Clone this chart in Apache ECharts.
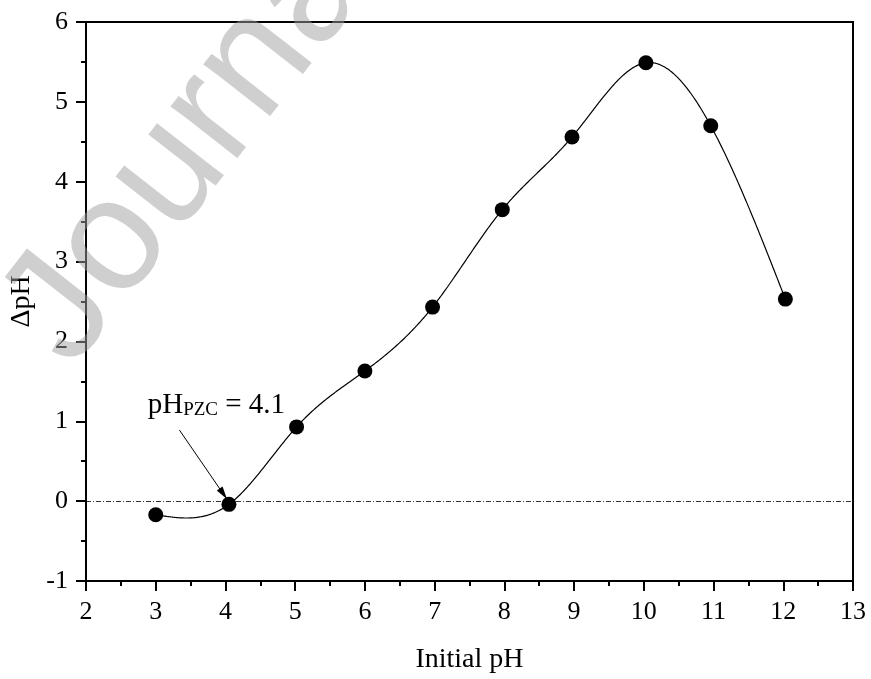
<!DOCTYPE html>
<html>
<head>
<meta charset="utf-8">
<title>ΔpH vs Initial pH</title>
<script src="https://cdn.jsdelivr.net/npm/echarts@6.0.0/dist/echarts.min.js"></script>
<style>
  html, body { margin: 0; padding: 0; background: #fff; }
  #chart { width: 871px; height: 679px; }
</style>
</head>
<body>
<div id="chart"></div>
<script>
// 数据
var initialPH = [3.00, 4.05, 5.02, 6.00, 6.97, 7.97, 8.97, 10.03, 10.96, 12.03];
var deltaPH = [-0.17, -0.04, 0.93, 1.63, 2.43, 3.65, 4.56, 5.49, 4.70, 2.53];
// 坐标轴刻度
var xMin = 2, xMax = 13, xStep = 1;
var yMin = -1, yMax = 6, yStep = 1;
// 注释
var pzcValue = 4.1;

(function() {
  var myChart = echarts.init(document.getElementById('chart'));
  var serif = '"Liberation Serif", "Times New Roman", serif';

  var points = initialPH.map(function(x, i) { return [x, deltaPH[i]]; });

  // 自然三次样条，用来画平滑曲线
  function naturalSpline(xs, ys) {
    var n = xs.length, h = [], al = [], l = [1], mu = [0], z = [0], b = [], c = [], d = [];
    var i;
    for (i = 0; i < n - 1; i++) h[i] = xs[i + 1] - xs[i];
    for (i = 1; i < n - 1; i++) {
      al[i] = 3 / h[i] * (ys[i + 1] - ys[i]) - 3 / h[i - 1] * (ys[i] - ys[i - 1]);
    }
    for (i = 1; i < n - 1; i++) {
      l[i] = 2 * (xs[i + 1] - xs[i - 1]) - h[i - 1] * mu[i - 1];
      mu[i] = h[i] / l[i];
      z[i] = (al[i] - h[i - 1] * z[i - 1]) / l[i];
    }
    c[n - 1] = 0;
    for (i = n - 2; i >= 0; i--) {
      c[i] = z[i] - mu[i] * c[i + 1];
      b[i] = (ys[i + 1] - ys[i]) / h[i] - h[i] * (c[i + 1] + 2 * c[i]) / 3;
      d[i] = (c[i + 1] - c[i]) / (3 * h[i]);
    }
    return function(x) {
      var k = 0;
      while (k < n - 2 && x > xs[k + 1]) k++;
      var dx = x - xs[k];
      return ys[k] + b[k] * dx + c[k] * dx * dx + d[k] * dx * dx * dx;
    };
  }
  var curve = naturalSpline(initialPH, deltaPH);

  var option = {
    backgroundColor: '#fff',
    animation: false,
    grid: {
      left: 86,
      right: 18,
      top: 22,
      bottom: 98,
      show: true,
      borderColor: '#000',
      borderWidth: 2,
      outerBoundsMode: 'none'
    },
    xAxis: {
      type: 'value',
      min: xMin,
      max: xMax,
      interval: xStep,
      name: 'Initial pH',
      nameLocation: 'middle',
      nameGap: 65,
      nameTextStyle: { fontFamily: serif, fontSize: 28, color: '#000' },
      axisLine: { show: true, onZero: false, lineStyle: { color: '#000', width: 2 } },
      axisTick: { show: true, inside: false, length: 10, lineStyle: { color: '#000', width: 2 } },
      minorTick: { show: true, splitNumber: 2, length: 5, lineStyle: { color: '#000', width: 2 } },
      axisLabel: { fontFamily: serif, fontSize: 26, color: '#000', margin: 18 },
      splitLine: { show: false }
    },
    yAxis: {
      type: 'value',
      min: yMin,
      max: yMax,
      interval: yStep,
      name: 'ΔpH',
      nameLocation: 'middle',
      nameGap: 36,
      nameTextStyle: { fontFamily: serif, fontSize: 28, color: '#000' },
      axisLine: { show: true, onZero: false, lineStyle: { color: '#000', width: 2 } },
      axisTick: { show: true, inside: false, length: 10, lineStyle: { color: '#000', width: 2 } },
      minorTick: { show: true, splitNumber: 2, length: 5, lineStyle: { color: '#000', width: 2 } },
      axisLabel: { fontFamily: serif, fontSize: 26, color: '#000', margin: 18 },
      splitLine: { show: false }
    },
    series: [
      {
        // 样条曲线
        name: 'spline',
        type: 'custom',
        data: points,
        encode: { x: 0, y: 1 },
        silent: true,
        z: 3,
        renderItem: function(params, api) {
          if (params.dataIndex !== 0) return;
          var x0 = initialPH[0], x1 = initialPH[initialPH.length - 1];
          var pts = [];
          for (var k = 0; k <= 600; k++) {
            var x = x0 + (x1 - x0) * k / 600;
            pts.push(api.coord([x, curve(x)]));
          }
          return {
            type: 'polyline',
            shape: { points: pts },
            style: { stroke: '#000', lineWidth: 1.2, fill: null }
          };
        }
      },
      {
        name: 'ΔpH',
        type: 'scatter',
        data: points,
        symbol: 'circle',
        symbolSize: 15,
        z: 5,
        itemStyle: { color: '#000', opacity: 1 },
        markLine: {
          silent: true,
          symbol: ['none', 'none'],
          label: { show: false },
          data: [
            // 零线
            [
              { coord: [xMin, 0], symbol: 'none' },
              { coord: [xMax, 0], symbol: 'none' }
            ],
            // 箭头
            [
              { coord: [3.34, 0.89], symbol: 'none' },
              { coord: [3.97, 0.09], symbol: 'triangle', symbolSize: [7, 13] }
            ]
          ],
          lineStyle: { color: '#000', width: 1, type: 'solid' }
        },
        markPoint: {
          silent: true,
          symbol: 'rect',
          symbolSize: 1,
          itemStyle: { color: 'rgba(0,0,0,0)' },
          data: [{ coord: [3.87, 1.2] }],
          label: {
            show: true,
            position: 'inside',
            color: '#000',
            fontFamily: serif,
            fontSize: 29,
            formatter: 'pH{sub|PZC} = ' + pzcValue,
            rich: {
              sub: { fontFamily: serif, fontSize: 19, color: '#000', verticalAlign: 'bottom', lineHeight: 16 }
            }
          }
        }
      }
    ],
    // 水印 Journal Pre-proof
    graphic: [
      {
        type: 'text',
        x: 100,
        y: 392,
        rotation: 52 * Math.PI / 180,
        silent: true,
        z: 100,
        style: {
          text: 'Journal Pre-proof',
          font: '160px "Liberation Sans", Arial, sans-serif',
          fill: 'rgba(160,160,160,0.5)',
          textAlign: 'left',
          textVerticalAlign: 'bottom'
        }
      }
    ]
  };

  // 零线用点划线
  option.series[1].markLine.data[0][0].lineStyle = { type: [5, 2, 1, 2], width: 0.8, color: '#000' };

  myChart.setOption(option);
  window.addEventListener('resize', function() {
    myChart.resize();
  });
})();
</script>
</body>
</html>
